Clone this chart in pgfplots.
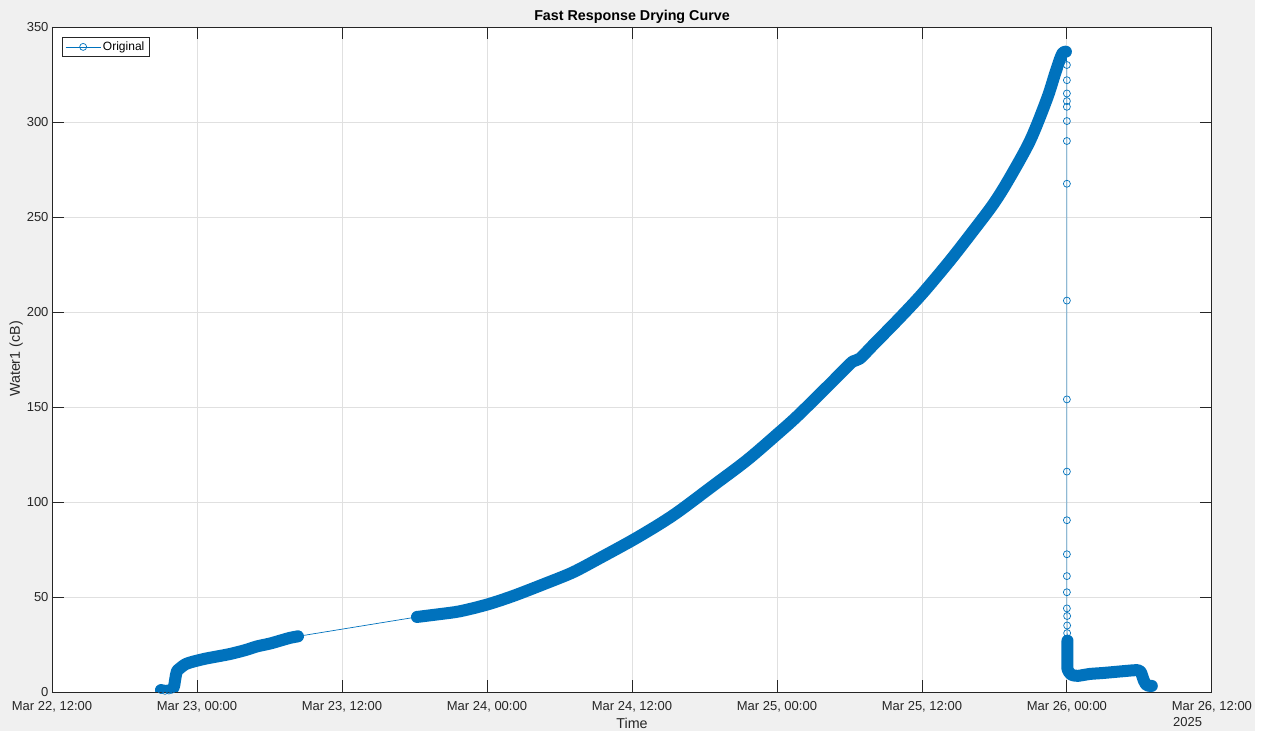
\documentclass[border=0pt]{standalone}
\usepackage{fontspec}
\setmainfont{Liberation Sans}
\usepackage{pgfplots}
\usepackage{pgfplotstable}
\pgfplotsset{compat=1.18}

\definecolor{mblue}{HTML}{0072BD}
\definecolor{figbg}{HTML}{F0F0F0}
\definecolor{axgray}{HTML}{262626}

% Water1 sensor reading; h = hours since Mar 22, 12:00
\pgfplotstableread{
h val
9.02 1.0
9.35 0.6
9.68 0.8
9.93 1.2
10.10 3.0
10.18 6.0
10.26 9.0
10.34 11.0
10.59 12.5
11.01 14.5
11.42 15.5
12.00 16.5
12.66 17.5
13.49 18.5
14.73 20.0
15.97 22.0
16.97 24.0
18.04 25.5
18.87 27.0
19.70 28.5
20.36 29.3
30.21 39.5
32.11 41.0
33.77 42.5
36.00 46.0
38.15 50.5
40.80 57.0
43.12 63.0
45.35 70.5
48.08 80.0
50.32 88.5
51.97 95.5
54.70 108.5
57.52 122.0
60.08 136.0
61.66 145.0
64.14 160.5
65.63 170.0
66.29 174.0
66.87 175.5
67.95 182.5
70.18 197.0
72.08 210.0
74.32 227.0
76.22 242.5
77.88 256.5
79.12 269.0
80.94 290.0
82.34 312.0
83.00 325.0
83.42 333.0
83.67 336.5
83.92 337.0
84.00 330.0
84.00 322.0
84.00 315.0
84.00 311.0
84.00 308.0
84.00 300.5
84.00 290.0
84.00 267.5
84.00 206.0
84.00 154.0
84.00 116.0
84.00 90.4
84.00 72.5
84.00 61.0
84.00 52.5
84.00 44.0
84.02 40.0
84.02 35.0
84.02 31.0
84.05 27.0
84.05 23.0
84.05 19.0
84.05 15.0
84.05 12.0
84.17 10.5
84.41 9.0
84.91 8.5
85.90 9.5
86.98 10.0
88.39 10.8
89.79 11.5
90.12 10.5
90.37 6.0
90.62 3.5
91.03 3.2
}\drying

\begin{document}
\begin{tikzpicture}
% figure background
\fill[white] (-52pt,-39pt) rectangle (1218pt,692pt);
\fill[figbg] (-52pt,-39pt) rectangle (1203pt,692pt);
\begin{axis}[
  at={(0pt,0pt)}, anchor=south west,
  scale only axis, width=1160pt, height=665pt,
  xmin=0, xmax=96, ymin=0, ymax=350,
  xtick={0,12,...,96},
  xticklabels={{Mar 22, 12:00},{Mar 23, 00:00},{Mar 23, 12:00},{Mar 24, 00:00},{Mar 24, 12:00},{Mar 25, 00:00},{Mar 25, 12:00},{Mar 26, 00:00},{Mar 26, 12:00}},
  ytick={0,50,...,350},
  /pgf/number format/assume math mode=true,
  tick align=inside, major tick length=11.6pt,
  grid=major, major grid style={draw=black!12, line width=0.8pt},
  axis line style={draw=axgray, line width=0.8pt},
  every tick/.style={draw=axgray, line width=0.8pt},
  tick label style={font=\fontsize{13}{15}\selectfont, text=axgray},
  xticklabel style={yshift=-6pt},
  axis background/.style={fill=white},
  legend style={at={(rel axis cs:0,1)}, anchor=north west, xshift=10pt, yshift=-10pt,
    draw=axgray, line width=0.6pt, fill=white,
    font=\fontsize{12}{14}\selectfont, inner xsep=3pt, inner ysep=2.5pt},
  legend image code/.code={\draw[mark repeat=2,mark phase=2] plot coordinates {(0pt,0pt) (17.5pt,0pt) (35pt,0pt)};},
]
% dense stretches of samples, where the markers merge into a solid band
\addplot[mblue, line width=12pt, line cap=round, line join=round, smooth, tension=0.5, restrict x to domain=0:21, forget plot] table[x=h,y=val]{\drying};
\addplot[mblue, line width=12pt, line cap=round, line join=round, smooth, tension=0.5, restrict x to domain=30:83.95, forget plot] table[x=h,y=val]{\drying};
\addplot[mblue, line width=12pt, line cap=round, line join=round, smooth, tension=0.4, restrict x to domain=84.04:92, forget plot] table[x=h,y=val]{\drying};
% the series itself
\addplot[mblue, line width=0.7pt, mark=o, mark size=3.5pt, mark options={line width=0.7pt}] table[x=h,y=val]{\drying};
\addlegendentry{Original}
\end{axis}
\node[anchor=base, font=\fontsize{14.3}{16}\selectfont\bfseries] at (580pt,671pt) {Fast Response Drying Curve};
\node[anchor=base, font=\fontsize{14.3}{16}\selectfont, text=axgray] at (580pt,-37pt) {Time};
\node[rotate=90, anchor=base, font=\fontsize{14.3}{16}\selectfont, text=axgray] at (-32pt,333pt) {Water1 (cB)};
\node[anchor=base west, inner sep=0pt, font=\fontsize{13}{15}\selectfont, text=axgray] at (1121pt,-35pt) {2025};
\pgfresetboundingbox
\useasboundingbox (-52pt,-39pt) rectangle (1218pt,692pt);
\end{tikzpicture}
\end{document}
